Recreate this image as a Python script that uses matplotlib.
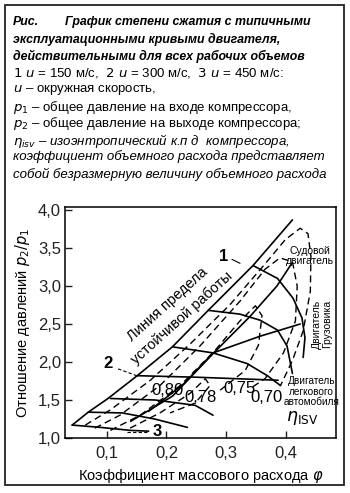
import matplotlib
matplotlib.use("Agg")
import matplotlib.pyplot as plt
from matplotlib.patches import Rectangle

FONT = ['Liberation Sans Narrow', 'Liberation Sans', 'DejaVu Sans']
plt.rcParams['font.family'] = FONT
plt.rcParams['mathtext.fontset'] = 'custom'
plt.rcParams['mathtext.it'] = 'Liberation Sans Narrow:italic'
plt.rcParams['mathtext.rm'] = 'Liberation Sans Narrow'

# ---- data ----
x_ticks = [0.1, 0.2, 0.3, 0.4]
x_tick_labels = ['0,1', '0,2', '0,3', '0,4']
y_ticks = [1.0, 1.5, 2.0, 2.5, 3.0, 3.5, 4.0]
y_tick_labels = ['1,0', '1,5', '2,0', '2,5', '3,0', '3,5', '4,0']

surge_x = [0.042, 0.069, 0.102, 0.151, 0.210, 0.270, 0.345, 0.411]
surge_y = [1.17, 1.34, 1.52, 1.82, 2.20, 2.68, 3.27, 3.87]

speed1_x = [0.345, 0.386, 0.412, 0.427, 0.432, 0.429]
speed1_y = [3.27, 3.10, 2.84, 2.58, 2.32, 2.06]
speed2_x = [0.270, 0.323, 0.357, 0.386, 0.402, 0.411]
speed2_y = [2.68, 2.63, 2.55, 2.42, 2.21, 1.85]
speed3_x = [0.210, 0.278, 0.335, 0.369, 0.391]
speed3_y = [2.20, 2.12, 1.98, 1.82, 1.69]
speed4_x = [0.151, 0.250, 0.387]
speed4_y = [1.82, 1.80, 1.76]
speed5_x = [0.106, 0.181, 0.248, 0.278]
speed5_y = [1.52, 1.50, 1.43, 1.30]
speed6_x = [0.069, 0.126, 0.180, 0.235]
speed6_y = [1.34, 1.33, 1.25, 1.14]
speed7_x = [0.042, 0.089, 0.140, 0.170]
speed7_y = [1.17, 1.14, 1.10, 1.09]

marine_x = [0.140, 0.210, 0.278, 0.340, 0.385, 0.410]
marine_y = [1.22, 1.55, 2.11, 2.60, 3.00, 3.30]
truck_x = [0.170, 0.230, 0.278, 0.357, 0.424]
truck_y = [1.35, 1.72, 2.12, 2.34, 2.50]

eff70_x = [0.064, 0.106, 0.173, 0.240, 0.307, 0.365, 0.399, 0.424, 0.437, 0.442, 0.441, 0.429, 0.411, 0.391]
eff70_y = [1.17, 1.37, 1.76, 2.24, 2.76, 3.29, 3.61, 3.76, 3.69, 3.39, 2.93, 2.41, 2.02, 1.69]
eff75_x = [0.080, 0.122, 0.189, 0.256, 0.323, 0.365, 0.390, 0.411, 0.419, 0.416, 0.396, 0.365, 0.340]
eff75_y = [1.13, 1.30, 1.69, 2.21, 2.80, 3.22, 3.37, 3.32, 3.00, 2.54, 2.12, 1.78, 1.65]
eff78_x = [0.106, 0.156, 0.223, 0.281, 0.323, 0.349, 0.360, 0.354, 0.332, 0.290]
eff78_y = [1.10, 1.30, 1.69, 2.15, 2.54, 2.74, 2.61, 2.22, 1.89, 1.63]
eff80_x = [0.139, 0.189, 0.240, 0.265, 0.273, 0.248, 0.206]
eff80_y = [1.13, 1.33, 1.59, 1.78, 1.69, 1.46, 1.33]

eff_labels = ['0,80', '0,78', '0,75', '0,70']
eff_label_x = [0.201, 0.257, 0.323, 0.368]
eff_label_y = [1.63, 1.535, 1.65, 1.535]

fig = plt.figure(figsize=(3.5, 4.93), dpi=100)
W, H = 350.0, 493.0

def fx(px):
    return px / W

def fy(py):
    return 1 - py / H

fig.patches.append(Rectangle((fx(5), fy(485)), 339 / W, 480 / H, transform=fig.transFigure,
                             fill=False, lw=1.3, ec='#222222'))

bi = dict(fontsize=8.9, fontweight='bold', fontstyle='italic', va='center', ha='left')
fig.text(fx(13), fy(22), 'Рис.', **bi)
fig.text(fx(65), fy(22), 'График степени сжатия с типичными', **bi)
fig.text(fx(13), fy(39), 'эксплуатационными кривыми двигателя,', **bi)
fig.text(fx(13), fy(56), 'действительными для всех рабочих объемов', **bi)
rg = dict(fontsize=9.5, va='center', ha='left')
fig.text(fx(13), fy(73), r'$1\ u$ = 150 м/с,  $2\ u$ = 300 м/с,  $3\ u$ = 450 м/с:', **rg)
fig.text(fx(13), fy(90), r'$u$ – окружная скорость,', **rg)
fig.text(fx(13), fy(107), r'$p_1$ – общее давление на входе компрессора,', **rg)
fig.text(fx(13), fy(124), r'$p_2$ – общее давление на выходе компрессора;', **rg)
it = dict(fontsize=9.5, fontstyle='italic', va='center', ha='left')
fig.text(fx(13), fy(141), r'$\eta_{isv}$ – изоэнтропический к.п д  компрессора,', **it)
fig.text(fx(13), fy(157), 'коэффициент объемного расхода представляет', **it)
fig.text(fx(13), fy(174), 'собой безразмерную величину объемного расхода', **it)

ax = fig.add_axes([fx(65), fy(438), (336 - 65) / W, (438 - 207) / H])
ax.set_xlim(0.03, 0.484)
ax.set_ylim(1.0, 4.04)
ax.set_xticks(x_ticks)
ax.set_xticklabels(x_tick_labels)
ax.set_yticks(y_ticks)
ax.set_yticklabels(y_tick_labels)
ax.tick_params(direction='in', length=5, width=1, labelsize=12, colors='#222222')
ax.tick_params(axis='x', pad=6)
ax.tick_params(axis='y', pad=3)
for s in ax.spines.values():
    s.set_linewidth(1.1)
ax.set_xlabel(r'Коэффициент массового расхода $\varphi$', fontsize=10.5, labelpad=4)
ax.set_ylabel(r'Отношение давлений $p_2/p_1$', fontsize=10.5, labelpad=4)

solid = dict(color='black', lw=1.2, solid_capstyle='round')
dash = dict(color='black', lw=1.0, ls=(0, (5, 3)))
ax.plot(surge_x, surge_y, **solid)
for xs, ys in [(speed1_x, speed1_y), (speed2_x, speed2_y), (speed3_x, speed3_y),
               (speed4_x, speed4_y), (speed5_x, speed5_y), (speed6_x, speed6_y),
               (speed7_x, speed7_y), (marine_x, marine_y), (truck_x, truck_y)]:
    ax.plot(xs, ys, **solid)
for xs, ys in [(eff70_x, eff70_y), (eff75_x, eff75_y), (eff78_x, eff78_y), (eff80_x, eff80_y)]:
    ax.plot(xs, ys, **dash)

for t, x, y in zip(eff_labels, eff_label_x, eff_label_y):
    ax.text(x, y, t, fontsize=12, ha='center', va='center')

ax.text(0.201, 2.76, 'Линия предела', fontsize=10.5, rotation=42, rotation_mode='anchor',
        ha='center', va='center')
ax.text(0.226, 2.58, 'устойчивой работы', fontsize=10.5, rotation=42, rotation_mode='anchor',
        ha='center', va='center')

ax.text(0.295, 3.39, '1', fontsize=12, fontweight='bold', ha='center', va='center')
ax.plot([0.310, 0.323], [3.35, 3.30], color='black', lw=0.8)
ax.text(0.102, 1.98, '2', fontsize=12, fontweight='bold', ha='center', va='center')
ax.plot([0.119, 0.150], [1.91, 1.82], color='black', lw=0.8, ls=(0, (3, 2)))
ax.text(0.184, 1.08, '3', fontsize=12, fontweight='bold', ha='center', va='center')
ax.plot([0.134, 0.170], [1.08, 1.08], color='black', lw=0.8, ls=(0, (3, 2)))

ax.text(0.441, 3.39, 'Судовой\nдвигатель', fontsize=7.5, ha='center', va='center', linespacing=1.0)
ax.text(0.460, 2.50, 'Двигатель\nГрузовика', fontsize=7.5, ha='center', va='center',
        rotation=90, linespacing=1.0)
ax.text(0.443, 1.61, 'Двигатель\nлегкового\nавтомобиля', fontsize=7.2, ha='center', va='center',
        linespacing=1.05)
ax.text(0.427, 1.26, r'$\eta_{\mathrm{ISV}}$', fontsize=12.5, ha='center', va='center')

fig.savefig('out.png', dpi=100)
